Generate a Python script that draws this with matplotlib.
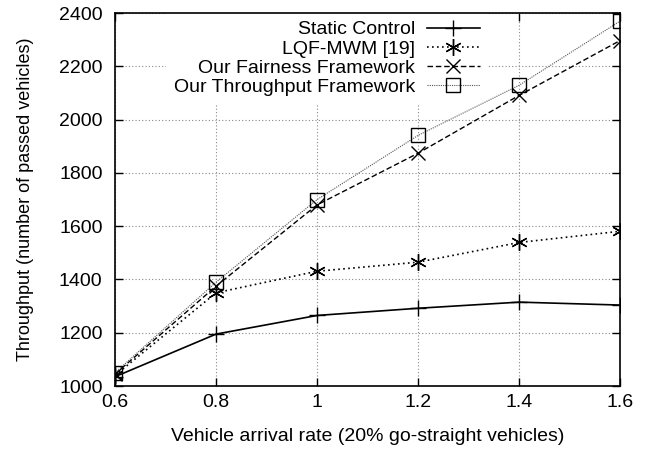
import matplotlib
matplotlib.use('Agg')
import matplotlib.pyplot as plt

plt.rcParams['font.family'] = ['Liberation Sans', 'DejaVu Sans']

rates = [0.6, 0.8, 1.0, 1.2, 1.4, 1.6]
static_control = [1035, 1195, 1265, 1292, 1315, 1304]
lqf_mwm = [1040, 1350, 1431, 1465, 1539, 1581]
fairness = [1045, 1375, 1680, 1874, 2091, 2297]
throughput = [1050, 1390, 1700, 1941, 2129, 2370]

xticks = [0.6, 0.8, 1.0, 1.2, 1.4, 1.6]
xticklabels = ['0.6', '0.8', '1', '1.2', '1.4', '1.6']
yticks = [1000, 1200, 1400, 1600, 1800, 2000, 2200, 2400]

fig = plt.figure(figsize=(6.48, 4.51), dpi=100)
ax = fig.add_axes([0.1775, 0.144, 0.7795, 0.827])

asterisk = (6, 2, 0)
ax.plot(rates, static_control, color='black', lw=1.2, ls='-', marker='+',
        ms=12, mew=1.0, label='Static Control')
ax.plot(rates, lqf_mwm, color='black', lw=1.2, ls=(0, (1, 2)), marker=asterisk,
        ms=12, mew=1.0, label='LQF-MWM [19]')
ax.plot(rates, fairness, color='black', lw=1.0, ls=(0, (4, 2)), marker='x',
        ms=10, mew=1.0, label='Our Fairness Framework')
ax.plot(rates, throughput, color='#555555', lw=0.8, ls=(0, (1, 1)), marker='s',
        ms=10, mew=1.0, mfc='none', mec='black', label='Our Throughput Framework')

ax.set_xlim(0.6, 1.6)
ax.set_ylim(1000, 2400)
ax.set_xticks(xticks)
ax.set_xticklabels(xticklabels)
ax.set_yticks(yticks)
ax.tick_params(direction='in', top=True, right=True, length=6, width=1,
               labelsize=14)
ax.tick_params(axis='y', pad=9)
ax.tick_params(axis='x', pad=6)
ax.grid(True, color='#888888', ls=(0, (1, 2)), lw=0.8)
for s in ax.spines.values():
    s.set_linewidth(1.2)

ax.set_xlabel('Vehicle arrival rate (20% go-straight vehicles)', fontsize=14, labelpad=12)
ax.set_ylabel('Throughput (number of passed vehicles)', fontsize=13, labelpad=18)

leg = ax.legend(loc='upper right', bbox_to_anchor=(0.737, 1.0), markerfirst=False,
                fontsize=14, frameon=True, framealpha=1, edgecolor='none',
                fancybox=False, handlelength=2.7, labelspacing=0.08,
                borderpad=0.4, handletextpad=0.6, borderaxespad=0.0)
# legend hides the grid but not the data lines
leg.set_zorder(1.5)

fig.savefig('out.png', dpi=100)
